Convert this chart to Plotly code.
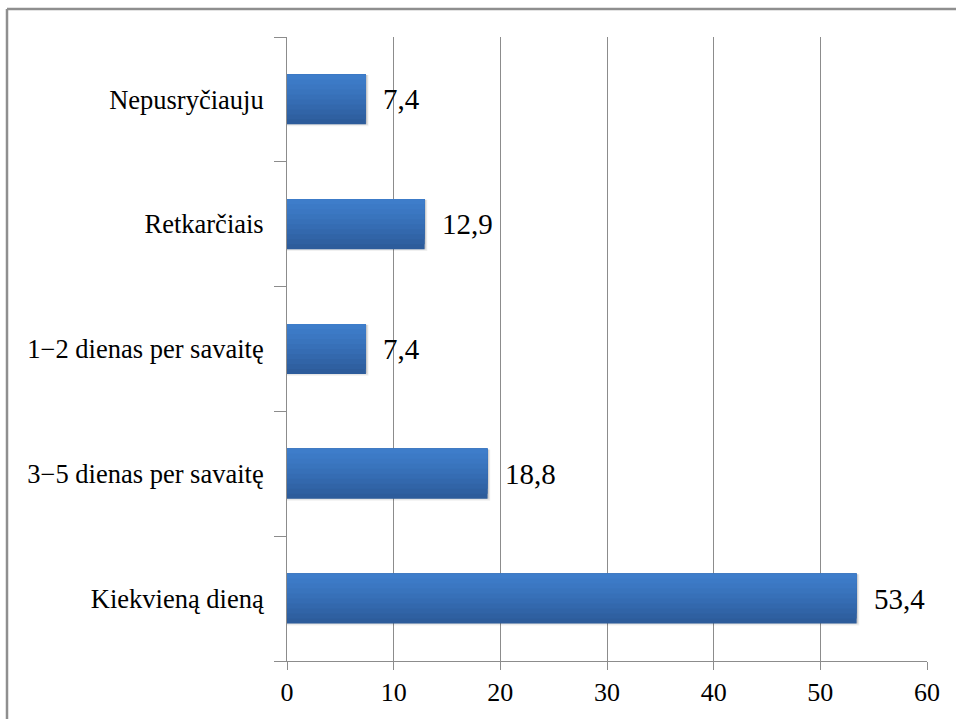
import plotly.graph_objects as go

# Breakfast frequency, percent of respondents (bottom to top)
categories = ["Kiekvieną dieną", "3−5 dienas per savaitę", "1−2 dienas per savaitę",
              "Retkarčiais", "Nepusryčiauju"]
values = [53.4, 18.8, 7.4, 12.9, 7.4]
x_ticks = [0, 10, 20, 30, 40, 50, 60]

W, H = 956, 719
L, R, T, B = 287, 29, 37, 58
pw, ph = W - L - R, H - T - B

def px_x(px):
    return (px - L) / pw

def px_y(py):
    return (H - B - py) / ph

serif = "'Liberation Serif', 'Times New Roman', Tinos, 'DejaVu Serif', serif"

fig = go.Figure()

# soft shadow under each bar
for k, a in enumerate([0.06, 0.08, 0.10]):
    fig.add_trace(go.Bar(
        y=categories, x=[v + 0.25 - 0.08 * k for v in values], orientation="h",
        width=0.41 - 0.01 * k, offset=-0.215 + 0.01 * k,
        marker=dict(color=f"rgba(0,0,0,{a})", line=dict(width=0)),
        hoverinfo="skip", showlegend=False,
    ))

# main bars, layered for a light top-to-bottom shading
shades = ["#2d5c9b", "#2f60a1", "#3164a7", "#3368ad", "#356cb3", "#3770b8",
          "#3974bd", "#3b77c2", "#3c7ac6", "#3e7dca"]
full = 0.4
for i, c in enumerate(shades):
    w = full * (len(shades) - i) / len(shades)
    fig.add_trace(go.Bar(
        y=categories, x=values, orientation="h", width=w, offset=full / 2 - w,
        marker=dict(color=c, line=dict(width=0)),
        hoverinfo="skip", showlegend=False,
    ))

fig.update_layout(barmode="overlay")

# value labels
for cat, v in zip(categories, values):
    fig.add_annotation(
        x=v, y=cat, text=f"{v:.1f}".replace(".", ","), showarrow=False,
        xanchor="left", xshift=15, yshift=0,
        font=dict(family=serif, size=29, color="#000000"),
    )

# outer frame (top and left edge)
frame = dict(color="#8f8f8f", width=2.5)
fig.add_shape(type="line", xref="paper", yref="paper",
              x0=px_x(7), x1=px_x(W + 5), y0=px_y(9), y1=px_y(9), line=frame)
fig.add_shape(type="line", xref="paper", yref="paper",
              x0=px_x(7), x1=px_x(7), y0=px_y(9), y1=px_y(H + 5), line=frame)

fig.update_xaxes(
    range=[0, 60], tickvals=x_ticks, ticktext=[str(t) for t in x_ticks],
    showgrid=True, gridcolor="#8c8c8c", gridwidth=1,
    showline=True, linecolor="#8c8c8c", linewidth=1,
    ticks="outside", ticklen=8, tickcolor="#8c8c8c",
    tickfont=dict(family=serif, size=26, color="#000000"),
    zeroline=False, fixedrange=True,
)
fig.update_yaxes(
    categoryorder="array", categoryarray=categories,
    showline=True, linecolor="#8c8c8c", linewidth=1,
    ticks="outside", ticklen=12, tickcolor="#8c8c8c", tickson="boundaries",
    tickfont=dict(family=serif, size=26.5, color="#000000"),
    showgrid=False, fixedrange=True, ticklabelstandoff=17,
)

fig.update_layout(
    width=W, height=H,
    margin=dict(l=L, r=R, t=T, b=B, pad=0),
    paper_bgcolor="white", plot_bgcolor="white",
    showlegend=False,
    font=dict(family=serif),
)

fig.write_html("out.html")
